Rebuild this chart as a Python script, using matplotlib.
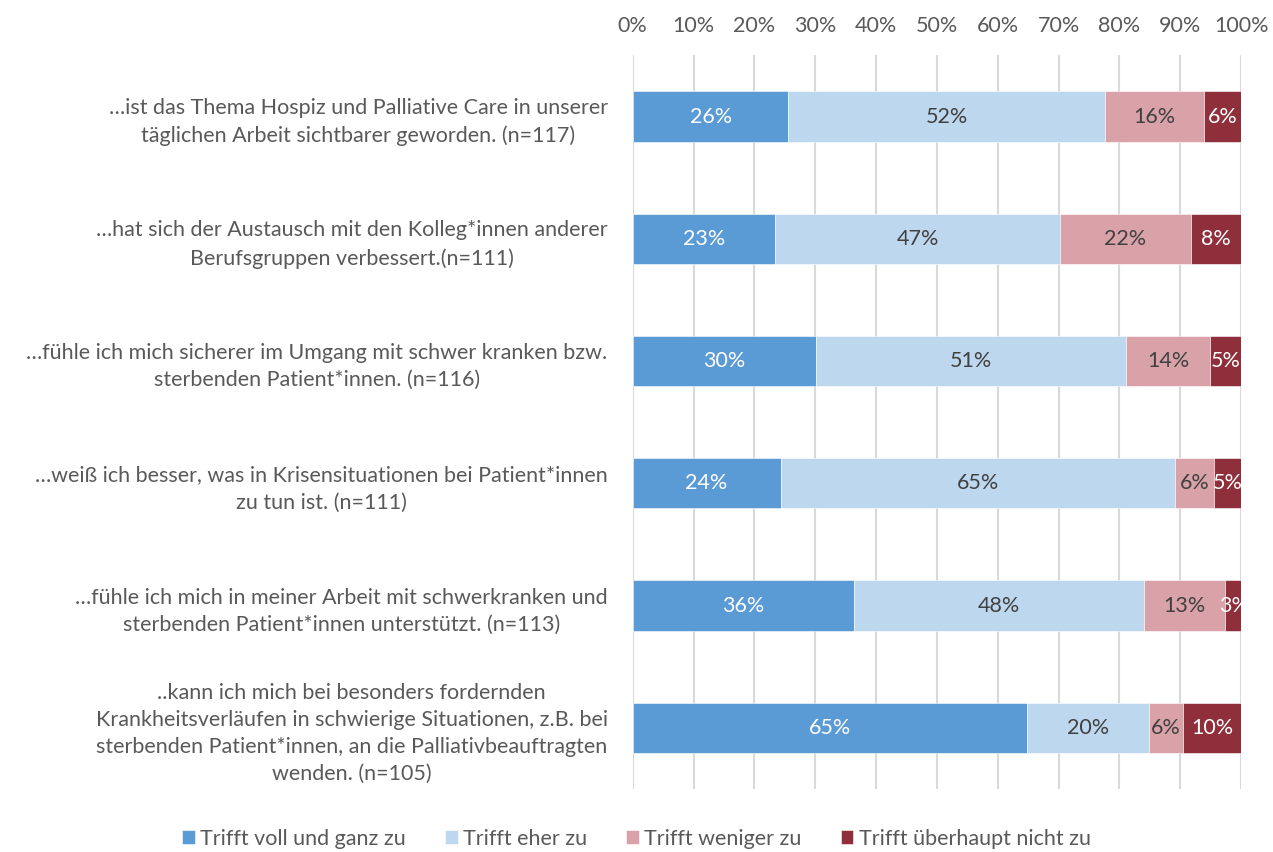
import numpy as np
import matplotlib.pyplot as plt

# statements (top to bottom)
statements = [
    "…ist das Thema Hospiz und Palliative Care in unserer\ntäglichen Arbeit sichtbarer geworden. (n=117)",
    "…hat sich der Austausch mit den Kolleg*innen anderer\nBerufsgruppen verbessert.(n=111)",
    "…fühle ich mich sicherer im Umgang mit schwer kranken bzw.\nsterbenden Patient*innen. (n=116)",
    "…weiß ich besser, was in Krisensituationen bei Patient*innen\nzu tun ist. (n=111)",
    "…fühle ich mich in meiner Arbeit mit schwerkranken und\nsterbenden Patient*innen unterstützt. (n=113)",
    "..kann ich mich bei besonders fordernden\nKrankheitsverläufen in schwierige Situationen, z.B. bei\nsterbenden Patient*innen, an die Palliativbeauftragten\nwenden. (n=105)",
]

# shares in percent
voll = [25.6, 23.4, 30.2, 24.3, 36.3, 64.8]
eher = [52.1, 46.8, 50.9, 64.9, 47.8, 20.0]
weniger = [16.2, 21.6, 13.8, 6.3, 13.3, 5.7]
nicht = [6.0, 8.1, 5.2, 4.6, 2.7, 9.5]

series_names = ["Trifft voll und ganz zu", "Trifft eher zu",
                "Trifft weniger zu", "Trifft überhaupt nicht zu"]
series = [voll, eher, weniger, nicht]
colors = ["#5B9BD5", "#BDD7EE", "#D9A2A9", "#8E2F3B"]
label_colors = ["white", "#404040", "#404040", "white"]

plt.rcParams['font.family'] = ['Lato', 'DejaVu Sans']
text_gray = "#595959"
fs = 15.5

fig = plt.figure(figsize=(12.73, 8.52), dpi=100)
ax = fig.add_axes([0.497, 0.074, 0.478, 0.861])

y = np.arange(len(statements))
left = np.zeros(len(statements))
for vals, name, col, lcol in zip(series, series_names, colors, label_colors):
    vals = np.array(vals)
    ax.barh(y, vals, left=left, height=0.41, color=col, label=name,
            edgecolor='white', linewidth=0.4, zorder=3)
    for yi, l, v in zip(y, left, vals):
        ax.text(l + v / 2, yi, f"{int(v + 0.5)}%", ha='center', va='center',
                color=lcol, fontsize=fs, zorder=4)
    left += vals

ax.set_xlim(0, 100)
ax.set_ylim(len(statements) - 0.5, -0.5)
ax.xaxis.tick_top()
ax.set_xticks(np.arange(0, 101, 10))
ax.set_xticklabels([f"{t}%" for t in range(0, 101, 10)], fontsize=fs, color=text_gray)
ax.set_yticks(y)
ax.set_yticklabels(statements, fontsize=fs, color=text_gray,
                   multialignment='center', linespacing=1.45)
ax.tick_params(length=0)
ax.tick_params(axis='y', pad=18)
ax.tick_params(axis='x', pad=14)
ax.grid(axis='x', color='#D9D9D9', linewidth=1.5, zorder=0)
for s in ax.spines.values():
    s.set_visible(False)

fig.legend(loc='lower center', bbox_to_anchor=(0.5, -0.019), ncol=4, frameon=False,
           fontsize=fs, labelcolor=text_gray, handlelength=0.6, handleheight=0.6,
           handletextpad=0.25, columnspacing=1.8)

fig.savefig("out.png", dpi=100)
